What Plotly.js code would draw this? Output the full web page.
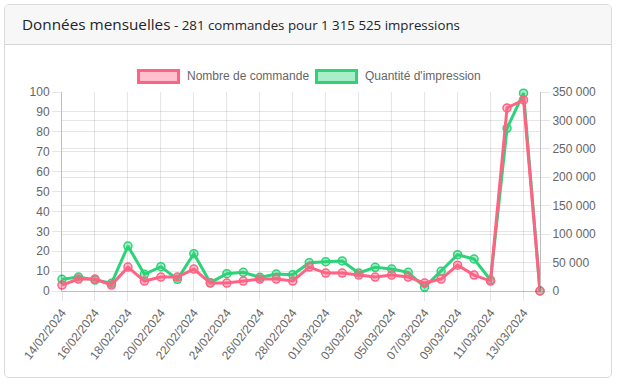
<!DOCTYPE html>
<html>
<head>
<meta charset="utf-8">
<script src="https://cdn.plot.ly/plotly-3.0.1.min.js"></script>
<style>
  html, body { margin: 0; padding: 0; background: #fff; }
  #card { position: absolute; left: 4px; top: 4px; width: 608px; height: 374px;
          border: 1px solid rgba(0,0,0,0.14); border-radius: 5px; box-sizing: border-box; overflow: hidden; }
  #hdr { height: 40px; background: #f7f7f7; border-bottom: 1px solid rgba(0,0,0,0.14); box-sizing: border-box;
         font-family: "Open Sans", sans-serif; color: #212529; padding-left: 17px; line-height: 39px; white-space: nowrap; }
  #hdr .big { font-size: 15.3px; }
  #hdr .small { font-size: 13.3px; }
  #chart { position: absolute; left: 0; top: 0; width: 623px; height: 386px; }
</style>
</head>
<body>
<div id="card"><div id="hdr"><span class="big">Données mensuelles</span><span class="small"> - 281 commandes pour 1 315 525 impressions</span></div></div>
<div id="chart"></div>
<script>
const dates = ["14/02/2024","15/02/2024","16/02/2024","17/02/2024","18/02/2024","19/02/2024","20/02/2024","21/02/2024",
  "22/02/2024","23/02/2024","24/02/2024","25/02/2024","26/02/2024","27/02/2024","28/02/2024","29/02/2024",
  "01/03/2024","02/03/2024","03/03/2024","04/03/2024","05/03/2024","06/03/2024","07/03/2024","08/03/2024",
  "09/03/2024","10/03/2024","11/03/2024","12/03/2024","13/03/2024","14/03/2024"];
const commandes = [3,6,6,3,12,5,7,7,11,4,4,5,6,6,5,12,9,9,8,7,8,7,4,6,13,8,5,92,96,0];
const impressions = [20500,24600,19300,13500,79100,29300,42800,20500,65600,14700,30400,32900,24000,29900,28700,49800,
  51600,52800,31700,41600,38700,32900,7000,34600,63800,56300,19300,286200,348000,0];
const seriesNames = ["Nombre de commande", "Quantité d'impression"];
const tickDates = dates.filter((d, i) => i % 2 === 0);

const pink = "rgb(255,99,132)", pinkFill = "rgba(255,99,132,0.4)";
const green = "rgb(46,210,120)", greenFill = "rgba(46,210,120,0.4)";
const tickFont = {family: "Liberation Sans, Arial, sans-serif", size: 12, color: "#666"};
const gridC = "rgba(0,0,0,0.1)";

const traces = [
  {x: dates, y: impressions, name: seriesNames[1], type: "scatter", mode: "lines+markers", yaxis: "y", cliponaxis: false,
   line: {color: green, width: 3}, marker: {size: 8, color: greenFill, line: {color: green, width: 1.5}}},
  {x: dates, y: commandes, name: seriesNames[0], type: "scatter", mode: "lines+markers", yaxis: "y2", cliponaxis: false,
   line: {color: pink, width: 3}, marker: {size: 8, color: pinkFill, line: {color: pink, width: 1.5}}}
];

function px2x(p) { return (p - 62) / 478; }
function py2y(p) { return (291 - p) / 199; }

const layout = {
  width: 623, height: 386,
  margin: {l: 62, r: 83, t: 92, b: 95},
  paper_bgcolor: "rgba(0,0,0,0)", plot_bgcolor: "rgba(0,0,0,0)",
  showlegend: false,
  separators: ", ",
  font: tickFont,
  xaxis: {type: "category", range: [0, dates.length - 1], tickmode: "array", tickvals: tickDates, ticktext: tickDates,
    tickangle: -52, showgrid: true, gridcolor: gridC, ticks: "outside", ticklen: 9, tickcolor: gridC,
    showline: true, linecolor: "rgba(0,0,0,0.25)", zeroline: false, tickfont: tickFont, fixedrange: true},
  yaxis: {side: "right", range: [0, 350000], dtick: 50000, tickformat: ",d", showgrid: true, gridcolor: gridC,
    ticks: "outside", ticklen: 9, tickcolor: gridC, showline: true, linecolor: "rgba(0,0,0,0.25)", zeroline: false,
    tickfont: tickFont},
  yaxis2: {side: "left", overlaying: "y", range: [0, 100], dtick: 10, showgrid: true, gridcolor: gridC,
    ticks: "outside", ticklen: 9, tickcolor: gridC, showline: true, linecolor: "rgba(0,0,0,0.25)", zeroline: false,
    tickfont: tickFont},
  shapes: [
    {type: "rect", xref: "paper", yref: "paper", x0: px2x(138.5), x1: px2x(178.5), y0: py2y(82.5), y1: py2y(70.5),
     line: {color: pink, width: 3}, fillcolor: pinkFill},
    {type: "rect", xref: "paper", yref: "paper", x0: px2x(316.5), x1: px2x(356.5), y0: py2y(82.5), y1: py2y(70.5),
     line: {color: green, width: 3}, fillcolor: greenFill}
  ],
  annotations: [
    {xref: "paper", yref: "paper", x: px2x(185), y: py2y(76), xanchor: "left", yanchor: "middle", showarrow: false,
     text: seriesNames[0], font: tickFont},
    {xref: "paper", yref: "paper", x: px2x(363), y: py2y(76), xanchor: "left", yanchor: "middle", showarrow: false,
     text: seriesNames[1], font: tickFont}
  ]
};
Plotly.newPlot("chart", traces, layout, {displayModeBar: false, staticPlot: true});
</script>
</body>
</html>
